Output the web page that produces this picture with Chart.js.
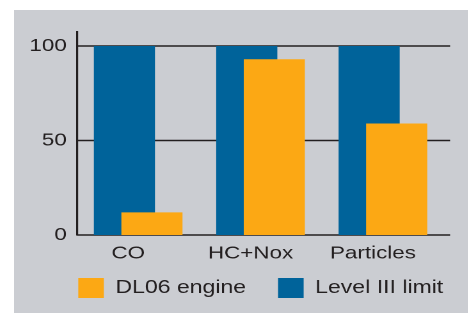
<!DOCTYPE html>
<html>
<head>
<meta charset="utf-8">
<script src="https://cdn.jsdelivr.net/npm/chart.js@4"></script>
<style>
  html, body { margin: 0; padding: 0; background: #fff; overflow: hidden; }
  #panel { position: absolute; left: 14px; top: 10px; width: 454px; height: 303px; background: #cbcdd2; overflow: hidden; }
  /* the original artwork is stretched sideways, so the chart is too */
  #wrap { width: 355px; height: 312px; transform: scaleX(1.28); transform-origin: 0 0; }
</style>
</head>
<body>
<div id="panel"><div id="wrap"><canvas id="graph"></canvas></div></div>
<script>
const categories = ['CO', 'HC+Nox', 'Particles'];
const levelIIILimit = [100, 100, 100];
const dl06Engine = [12, 93, 59];
const yTicks = [0, 50, 100];

const ink = '#231f20';
const font = 'Liberation Sans, Arial, sans-serif';

const canva = document.getElementById('graph');

// horizontal rules at each tick, running a little past the plot
const rules = {
  id: 'rules',
  beforeDatasetsDraw(chart) {
    const y = chart.scales.y, a = chart.chartArea, ctx = chart.ctx;
    ctx.save();
    ctx.strokeStyle = ink;
    ctx.lineWidth = 1.5;
    y.ticks.forEach((t) => {
      const py = y.getPixelForValue(t.value);
      ctx.beginPath();
      ctx.moveTo(a.left, py);
      ctx.lineTo(a.right + 4.7, py);
      ctx.stroke();
    });
    ctx.restore();
  }
};

// engine bars sit in front of the limit bars
const engineOnTop = {
  id: 'engineOnTop',
  beforeDatasetDraw(chart, args) {
    if (args.index === 1) return false;
  },
  afterDatasetsDraw(chart) {
    chart.getDatasetMeta(1).controller.draw();
  }
};

// legend row sits under the plot, starting at the y axis
const legendSpot = {
  id: 'legendSpot',
  beforeDraw(chart) {
    const lg = chart.legend;
    if (!lg) return;
    const h = lg.bottom - lg.top;
    lg.left = chart.chartArea.left - 24;
    lg.right = 420;
    lg.top = 243;
    lg.bottom = 243 + h;
  }
};

const data = {
  labels: categories,
  datasets: [{
    label: 'Level III limit',
    data: levelIIILimit,
    backgroundColor: '#00639a',
    borderWidth: 0
  }, {
    label: 'DL06 engine',
    data: dl06Engine,
    backgroundColor: '#fca814',
    borderWidth: 0
  }]
};

const config = {
  type: 'bar',
  data,
  options: {
    responsive: true,
    maintainAspectRatio: false,
    devicePixelRatio: 2,
    animation: false,
    events: [],
    categoryPercentage: 0.45,
    barPercentage: 2.22,
    layout: { padding: { top: 22, right: 19, left: 0, bottom: 0 } },
    scales: {
      x: {
        grid: { display: false, drawTicks: false },
        border: { display: false },
        ticks: { color: ink, font: { family: font, size: 17.5 }, padding: 8, labelOffset: -7.8 },
        afterFit(s) { s.height = 32; }
      },
      y: {
        min: 0,
        max: 107.4,
        grid: { display: false, drawTicks: false },
        border: { display: true, color: ink, width: 1.6 },
        ticks: { color: ink, font: { family: font, size: 17.5 }, padding: 8, includeBounds: false },
        afterBuildTicks(s) { s.ticks = yTicks.map((v) => ({ value: v })); },
        afterFit(s) { s.width = 49.2; }
      }
    },
    plugins: {
      tooltip: { enabled: false },
      legend: {
        position: 'bottom',
        align: 'start',
        reverse: true,
        labels: {
          boxWidth: 20,
          boxHeight: 20,
          padding: 25,
          color: ink,
          font: { family: font, size: 18 }
        }
      }
    }
  },
  plugins: [rules, engineOnTop, legendSpot]
};

var chart = new Chart(canva, config);
</script>
</body>
</html>
